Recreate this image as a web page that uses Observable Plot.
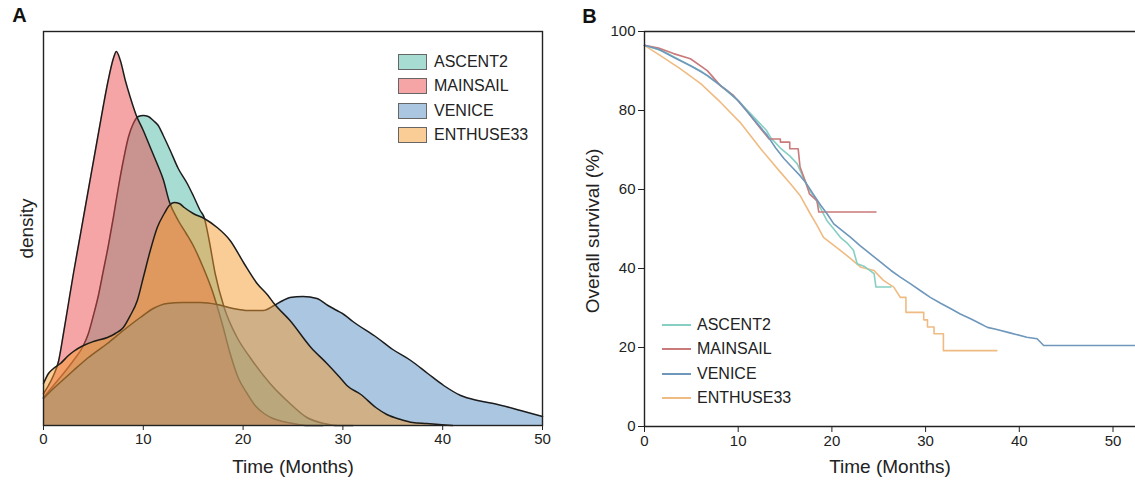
<!DOCTYPE html>
<html><head><meta charset="utf-8">
<script src="https://cdn.jsdelivr.net/npm/d3@7"></script>
<script src="https://cdn.jsdelivr.net/npm/@observablehq/plot@0.6"></script>
<style>
body{margin:0;background:#fff;font-family:"Liberation Sans",Arial,sans-serif;}
#wrap{position:relative;width:1135px;height:481px;overflow:hidden;background:#fff;}
#a,#b{position:absolute;top:0;}
#a{left:0}#b{left:560px}
.lt{position:absolute;font-size:16px;color:#222;line-height:20px;white-space:nowrap;}
.sw{position:absolute;width:27px;height:14px;border:1px solid #666;}
.ln{position:absolute;width:29px;height:2px;}
</style></head><body>
<div id="wrap"><div id="a"></div><div id="b"></div></div>
<script>
// ---- categories & colours ----
const trials = ["ASCENT2", "MAINSAIL", "VENICE", "ENTHUSE33"];
const densityFills = ["#4db9a5", "#eb4b4b", "#558dc3", "#f59b2d"];
const survivalStrokes = ["#86cfc2", "#c97a7a", "#6f97bb", "#efbb82"];
const timeTicks = [0, 10, 20, 30, 40, 50];
const survivalTicks = [0, 20, 40, 60, 80, 100];

// ---- Panel A: density estimates (time in months, density) ----
const ascent2DensT = [0,1,2,3,4,4.5,5,5.5,6,6.5,7,7.5,8,8.5,9,9.5,10,10.5,11,11.5,12,12.7,13.5,14.4,15,15.7,16.1,16.6,17.2,18.1,19.4,20.7,22.7,24.7,26.4,28.1,29.5,31];
const ascent2DensY = [0.0056,0.008,0.0104,0.013,0.016,0.0184,0.022,0.026,0.031,0.036,0.0416,0.0476,0.053,0.0576,0.0604,0.0618,0.062,0.0618,0.061,0.06,0.058,0.055,0.0514,0.0484,0.046,0.043,0.0416,0.037,0.0304,0.0236,0.0176,0.0136,0.0084,0.0044,0.0016,0.0004,0,0];
const mainsailDensT = [0,0.5,1,1.5,2,2.5,3,3.5,4,4.5,5,5.5,6,6.5,7,7.3,7.7,8.2,8.7,9.3,10,10.5,11,11.5,12,12.6,13.5,14.3,15.1,16,16.9,17.9,18.7,19.5,20.4,21.2,22.1,23,24,25,26.5,28];
const mainsailDensY = [0.0064,0.008,0.01,0.0128,0.0184,0.0244,0.0304,0.036,0.0416,0.0472,0.0528,0.0584,0.064,0.0692,0.0734,0.0748,0.073,0.069,0.0656,0.062,0.059,0.0566,0.0542,0.0518,0.0492,0.0448,0.041,0.0384,0.0356,0.0316,0.027,0.0204,0.0144,0.0096,0.0064,0.004,0.0024,0.0014,0.0008,0.0004,0,0];
const veniceDensT = [0,1,2,3,4.5,6.4,8,9.7,11,12.4,14,15.7,17.4,19,20.5,22,23.1,24,24.7,26,27.4,28.5,29.4,30.1,31,33.4,35,36.8,38.5,40.1,41.8,43.5,45.1,47.8,50];
const veniceDensY = [0.0054,0.0074,0.0092,0.011,0.0136,0.0164,0.019,0.0216,0.0234,0.0244,0.0246,0.0246,0.0242,0.0234,0.023,0.023,0.024,0.025,0.0256,0.0258,0.0254,0.024,0.023,0.0222,0.0208,0.0176,0.0152,0.013,0.0104,0.008,0.006,0.005,0.0044,0.003,0.0018];
const enthuseDensT = [0,0.5,1,1.7,2.5,3,4,5,6.4,7.2,8,8.7,9.4,10,10.7,11.4,12.1,12.6,13.1,13.6,14.1,15,16.1,17.4,18.7,20.1,21.4,22.5,23.1,24.7,26.8,28.4,29.7,30.4,31.8,33.3,34.4,35.8,37,38.4,41];
const enthuseDensY = [0.0084,0.0104,0.0114,0.0124,0.014,0.0148,0.016,0.0168,0.0176,0.0184,0.0196,0.022,0.025,0.0296,0.035,0.0396,0.0424,0.044,0.0446,0.0444,0.0436,0.0424,0.0414,0.0396,0.037,0.0324,0.0284,0.026,0.0244,0.021,0.0156,0.0124,0.0096,0.008,0.0062,0.0036,0.0022,0.0012,0.0006,0.0004,0];

// ---- Panel B: Kaplan-Meier overall survival (months, %) ----
const ascent2SurvT = [0,2,4,6,8,10,11,12,13,13.5,14.5,15.5,16.3,17.4,18.4,19.5,20.2,20.9,21.6,22.3,22.7,23.5,24.5,24.7,26.3];
const ascent2SurvS = [96.5,95,92.5,90,86.5,82.5,80,77.5,75,73,70.5,68.5,66.5,60.6,57,52,50,47.9,46.5,44.6,41.2,40.5,38.7,35.3,35.3];
const mainsailSurvT = [0,1.5,3.1,4.9,6.7,8.1,9.5,11,12.4,13.3,14.5,14.5,15.5,15.5,16.4,16.6,17.2,17.6,18.4,18.6,24.7];
const mainsailSurvS = [96.5,95.8,94.4,93.1,90.1,86.3,83.8,79.6,75.4,72.8,72.8,72,72,70.3,70.3,65.7,61.9,58.9,57.2,54.3,54.3];
const veniceSurvT = [0,1.5,3.1,5,6.7,8.8,10,11,12,13.1,14,14.9,15.8,16.6,17.2,18.1,18.8,19.5,20.2,21,22,23,24.1,25.2,26.3,27.3,28.4,29.5,30.5,31.6,32.7,33.7,34.8,35.7,36.6,37.5,39,40.8,41.9,42.6,52.4];
const veniceSurvS = [96.5,95.5,93.5,91.2,88.9,85.1,82.5,79.6,76.8,73.7,70.5,67.8,65.5,63.5,61.8,58.5,56,53.8,51.3,49.8,47.9,45.8,43.7,41.6,39.5,37.8,36.1,34.3,32.7,31.2,29.8,28.5,27.3,26.2,25.1,24.6,23.7,22.6,22.2,20.5,20.5];
const enthuseSurvT = [0,1.7,3.8,6,8.1,10.2,12.4,14.5,15.6,16.6,17.7,18.4,19.1,20.9,22,23.1,24.5,24.8,25.5,26.6,27.3,27.9,27.9,29.8,29.8,30.2,30.2,30.9,30.9,31.9,31.9,37.6];
const enthuseSurvS = [96.5,93.9,90.6,86.8,82.1,77,70.3,64.4,61.4,58.5,53.8,51,47.9,44.6,42.5,40.3,39.5,38.7,37,35.3,32.7,32.7,28.9,28.9,27,27,25.2,25.2,23.5,23.5,19.2,19.2];

const densT = [ascent2DensT, mainsailDensT, veniceDensT, enthuseDensT];
const densY = [ascent2DensY, mainsailDensY, veniceDensY, enthuseDensY];
const survT = [ascent2SurvT, mainsailSurvT, veniceSurvT, enthuseSurvT];
const survS = [ascent2SurvS, mainsailSurvS, veniceSurvS, enthuseSurvS];

const font = '"Liberation Sans", Arial, sans-serif';
const ink = "#222";

// ---------- Panel A ----------
const densMarks = [];
trials.forEach((tr, i) => {
  const rows = densT[i].map((t, j) => ({trial: tr, t, d: densY[i][j]}));
  densMarks.push(Plot.areaY(rows, {x: "t", y: "d", fill: "trial", fillOpacity: 0.5, curve: "monotone-x"}));
  densMarks.push(Plot.lineY(rows, {x: "t", y: "d", stroke: "#1c1c1c", strokeWidth: 1.5, curve: "monotone-x"}));
});
const plotA = Plot.plot({
  width: 560, height: 481,
  marginLeft: 43, marginRight: 18, marginTop: 31, marginBottom: 56,
  style: {fontSize: "15px", fontFamily: font, color: ink, background: "transparent"},
  x: {domain: [0, 50], ticks: timeTicks, tickSize: 5, tickPadding: 3, label: null, tickFormat: d => d},
  y: {domain: [0, 0.0788], axis: null},
  color: {domain: trials, range: densityFills},
  marks: [
    ...densMarks,
    Plot.frame({stroke: ink, strokeWidth: 1.4}),
    Plot.text(["Time (Months)"], {text: d => d, frameAnchor: "bottom", dy: 41, textAnchor: "middle", lineAnchor: "middle", fontSize: 19, fill: ink}),
    Plot.text(["density"], {text: d => d, frameAnchor: "left", dx: -17, rotate: -90, textAnchor: "middle", lineAnchor: "middle", fontSize: 19, fill: ink}),
    Plot.text(["A"], {text: d => d, frameAnchor: "top-left", dx: -24, dy: -16, textAnchor: "middle", lineAnchor: "middle", fontSize: 20, fontWeight: "bold", fill: "#111"})
  ]
});
document.getElementById("a").appendChild(plotA);

// ---------- Panel B ----------
const survRows = [];
trials.forEach((tr, i) => survT[i].forEach((t, j) => survRows.push({trial: tr, t, s: survS[i][j]})));
const drawOrder = ["ENTHUSE33", "ASCENT2", "MAINSAIL", "VENICE"];
const plotB = Plot.plot({
  width: 575, height: 481,
  marginLeft: 84, marginRight: 0, marginTop: 31, marginBottom: 55,
  style: {fontSize: "15px", fontFamily: font, color: ink, background: "transparent"},
  x: {domain: [0, 52.4], ticks: timeTicks, tickSize: 6, tickPadding: 3, label: null, tickFormat: d => d},
  y: {domain: [0, 100], ticks: survivalTicks, tickSize: 6, tickPadding: 3, label: null, tickFormat: d => d},
  color: {domain: trials, range: survivalStrokes},
  marks: [
    ...drawOrder.map(tr => Plot.line(survRows.filter(r => r.trial === tr), {x: "t", y: "s", stroke: "trial", strokeWidth: 1.6})),
    Plot.ruleY([100], {stroke: ink, strokeWidth: 1.4}),
    Plot.ruleY([0], {stroke: ink, strokeWidth: 1.4}),
    Plot.ruleX([0], {stroke: ink, strokeWidth: 1.4}),
    Plot.text(["Time (Months)"], {text: d => d, frameAnchor: "bottom", dy: 40, textAnchor: "middle", lineAnchor: "middle", fontSize: 19, fill: ink}),
    Plot.text(["Overall survival (%)"], {text: d => d, frameAnchor: "left", dx: -52, dy: 2, rotate: -90, textAnchor: "middle", lineAnchor: "middle", fontSize: 19, fill: ink}),
    Plot.text(["B"], {text: d => d, frameAnchor: "top-left", dx: -55, dy: -15, textAnchor: "middle", lineAnchor: "middle", fontSize: 20, fontWeight: "bold", fill: "#111"})
  ]
});
document.getElementById("b").appendChild(plotB);

// ---------- Legends (HTML) ----------
const wrap = document.getElementById("wrap");
const legA = [62, 86, 111, 135];
const legB = [325, 349, 374, 398];
trials.forEach((tr, i) => {
  const sw = document.createElement("div");
  sw.className = "sw";
  const c = d3.color(densityFills[i]); c.opacity = 0.5;
  sw.style.cssText = `left:398px;top:${legA[i] - 8}px;background:${c.formatRgb()}`;
  wrap.appendChild(sw);
  const t = document.createElement("div");
  t.className = "lt"; t.textContent = tr;
  t.style.cssText = `left:434px;top:${legA[i] - 10}px`;
  wrap.appendChild(t);

  const ln = document.createElement("div");
  ln.className = "ln";
  ln.style.cssText = `left:662px;top:${legB[i] - 1}px;background:${survivalStrokes[i]}`;
  wrap.appendChild(ln);
  const t2 = document.createElement("div");
  t2.className = "lt"; t2.textContent = tr;
  t2.style.cssText = `left:697px;top:${legB[i] - 10}px`;
  wrap.appendChild(t2);
});
</script>
</body></html>
